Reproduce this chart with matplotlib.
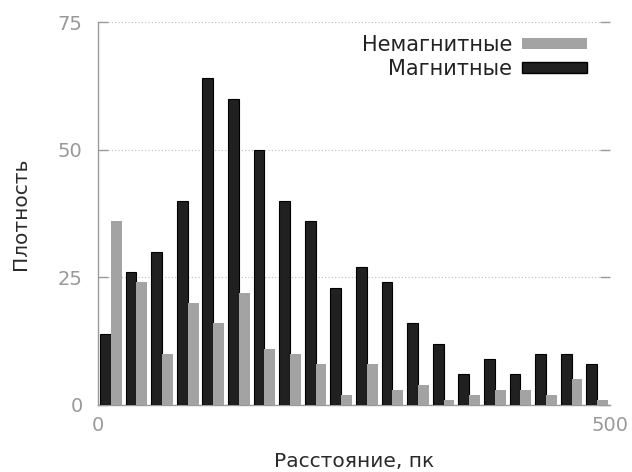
"""Histogram of distances: magnetic vs non-magnetic stars (gnuplot-like look)."""
import matplotlib
matplotlib.use("Agg")
import matplotlib.pyplot as plt
from matplotlib.patches import Patch
import numpy as np

plt.rcParams["font.family"] = ["DejaVu Sans"]

bin_starts = list(range(0, 500, 25))
magnetic = [14, 26, 30, 40, 64, 60, 50, 40, 36, 23,
            27, 24, 16, 12, 6, 9, 6, 10, 10, 8]
nonmagnetic = [36, 24, 10, 20, 16, 22, 11, 10, 8, 2,
               8, 3, 4, 1, 2, 3, 3, 2, 5, 1]
x_ticks = [0, 500]
y_ticks = [0, 25, 50, 75]

GRAY = "#a3a3a3"
BLACK = "#202020"
AXIS = "#9a9a9a"

fig = plt.figure(figsize=(6.32, 4.72), dpi=100)
ax = fig.add_axes([0.155, 0.142, 0.81, 0.811])

x = np.array(bin_starts, dtype=float)
w = 10.6
ax.bar(x + 2.0, magnetic, width=w, align="edge", color=BLACK,
       edgecolor="black", linewidth=0.8, zorder=3)
ax.bar(x + 2.0 + w, nonmagnetic, width=w, align="edge", color=GRAY,
       linewidth=0, zorder=3)

ax.set_xlim(0, 500)
ax.set_ylim(0, 75)
ax.set_xticks(x_ticks)
ax.set_yticks(y_ticks)

for yv in y_ticks[1:]:
    ax.axhline(yv, color="#bbbbbb", linestyle=(0, (1, 2)), linewidth=0.8, zorder=1)

for side in ["top", "right"]:
    ax.spines[side].set_visible(False)
for side in ["left", "bottom"]:
    ax.spines[side].set_color(AXIS)
    ax.spines[side].set_linewidth(1.0)

ax.tick_params(axis="both", colors=AXIS, labelsize=14, length=7, width=1,
               direction="in", right=True, labelcolor="#999999")
ax.tick_params(axis="x", length=0, pad=8)
ax.tick_params(axis="y", pad=11)

ax.set_ylabel("Плотность", fontsize=14.5, color="#2a2a2a", labelpad=20)
ax.set_xlabel("Расстояние, пк", fontsize=14.5, color="#2a2a2a", labelpad=12)

handles = [Patch(facecolor=GRAY, edgecolor="none", label="Немагнитные"),
           Patch(facecolor=BLACK, edgecolor="black", label="Магнитные")]
ax.legend(handles=handles, loc="upper right", bbox_to_anchor=(0.988, 1.011),
          frameon=False, markerfirst=False,
          fontsize=15, handlelength=3.1, handleheight=0.45, handletextpad=0.5,
          labelspacing=0.2, borderaxespad=0.6, borderpad=0.2,
          labelcolor="#222222")

fig.savefig("out.png", dpi=100, facecolor="white")
